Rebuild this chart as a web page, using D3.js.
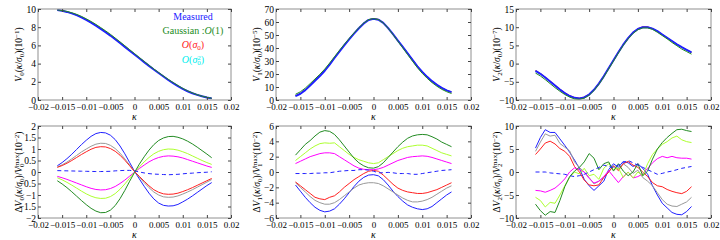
<!DOCTYPE html>
<html><head><meta charset="utf-8">
<script src="https://cdn.jsdelivr.net/npm/d3@7"></script>
<style>
html,body{margin:0;padding:0;background:#fff;}
svg text{font-family:"Liberation Serif",serif !important;}
</style></head>
<body><svg id="c" width="720" height="240"></svg>
<script>
// ---------- DATA ----------
const kappa = [-0.016,-0.015,-0.014,-0.013,-0.012,-0.011,-0.010,-0.009,-0.008,-0.007,-0.006,-0.005,-0.004,-0.003,-0.002,-0.001,0,
  0.001,0.002,0.003,0.004,0.005,0.006,0.007,0.008,0.009,0.010,0.011,0.012,0.013,0.014,0.015,0.016];
const xTicks = [-0.02,-0.015,-0.01,-0.005,0,0.005,0.01,0.015,0.02];
const xTickLabels = ["\u22120.02","\u22120.015","\u22120.01","\u22120.005","0","0.005","0.01","0.015","0.02"];

// Top-left: V0 (10^-1)
const v0Measured = [9.88,9.8,9.68,9.52,9.32,9.08,8.8,8.5,8.17,7.82,7.46,7.08,6.68,6.26,5.84,5.42,5.0,4.58,4.16,3.75,3.35,2.97,2.58,2.2,1.85,1.52,1.22,0.96,0.74,0.56,0.41,0.28,0.18];
const v0Gauss    = [9.9,9.83,9.73,9.59,9.41,9.19,8.92,8.63,8.31,7.96,7.6,7.22,6.81,6.39,5.96,5.53,5.1,4.67,4.24,3.82,3.41,3.02,2.64,2.27,1.92,1.59,1.28,1.01,0.78,0.58,0.42,0.29,0.19];
const v0Sigma1   = [9.89,9.81,9.69,9.53,9.33,9.09,8.81,8.51,8.19,7.84,7.48,7.1,6.7,6.28,5.86,5.44,5.02,4.6,4.18,3.77,3.37,2.99,2.6,2.22,1.87,1.54,1.23,0.97,0.75,0.56,0.41,0.28,0.18];
const v0Sigma2   = [9.88,9.8,9.68,9.52,9.32,9.08,8.8,8.5,8.18,7.83,7.47,7.09,6.69,6.27,5.85,5.43,5.01,4.59,4.17,3.76,3.36,2.98,2.59,2.21,1.86,1.53,1.22,0.96,0.74,0.56,0.41,0.28,0.18];

// Top-middle: V1 (10^-5)
const v1Measured = [3,4.8,7.6,11.2,14.8,18.4,22.5,27.2,32.3,37.2,42,46.6,51,55.2,58.9,61.6,62.4,61.8,59.3,55.3,50.6,45.7,40.8,35.9,30.9,25.9,21.6,17.8,14.5,11.7,9.3,7.4,6.1];
const v1Gauss    = [4.4,6.3,9.1,12.6,16.2,19.8,23.8,28.4,33.3,38.1,42.8,47.3,51.6,55.6,59.2,61.8,62.6,61.9,59.3,55.2,50.3,45.2,40.1,35,29.9,24.9,20.5,16.7,13.4,10.6,8.2,6.4,5.0];
const v1Sigma1   = [3.2,5.0,7.8,11.4,15.0,18.6,22.7,27.4,32.5,37.4,42.2,46.8,51.2,55.4,59.1,61.8,62.6,62.0,59.5,55.5,50.8,45.9,41.0,36.1,31.1,26.1,21.8,18.0,14.6,11.8,9.4,7.5,6.1];
const v1Sigma2   = [3.1,4.9,7.7,11.3,14.9,18.5,22.6,27.3,32.4,37.3,42.1,46.7,51.1,55.3,59.0,61.7,62.5,61.9,59.4,55.4,50.7,45.8,40.9,36.0,31.0,26.0,21.7,17.9,14.5,11.7,9.3,7.4,6.1];

// Top-right: V2 (10^-7)
const v2Measured = [-2.0,-2.8,-3.8,-4.9,-6.0,-7.1,-8.1,-8.9,-9.4,-9.6,-9.3,-8.5,-7.2,-5.5,-3.5,-1.3,0.9,3.1,5.2,7.0,8.5,9.5,10.0,10.0,9.6,8.9,8.0,7.1,6.2,5.3,4.5,3.8,3.1];
const v2Gauss    = [-2.6,-3.4,-4.4,-5.5,-6.6,-7.6,-8.5,-9.2,-9.7,-9.8,-9.5,-8.7,-7.4,-5.7,-3.7,-1.5,0.7,2.9,5.0,6.8,8.3,9.3,9.8,9.8,9.4,8.6,7.7,6.8,5.8,4.9,4.0,3.3,2.6];
const v2Sigma1   = [-1.9,-2.7,-3.7,-4.8,-5.9,-7.0,-8.0,-8.8,-9.3,-9.5,-9.2,-8.4,-7.1,-5.4,-3.4,-1.2,1.0,3.2,5.3,7.1,8.6,9.6,10.1,10.1,9.6,8.9,8.0,7.1,6.2,5.3,4.5,3.8,3.1];
const v2Sigma2   = [-2.0,-2.8,-3.8,-4.9,-6.0,-7.1,-8.1,-8.9,-9.4,-9.6,-9.3,-8.5,-7.2,-5.5,-3.5,-1.3,0.9,3.1,5.2,7.0,8.5,9.5,10.0,10.0,9.6,8.9,8.0,7.1,6.2,5.3,4.5,3.8,3.1];

// Bottom-left: dV0 / V0max (10^-2)
const d0Blue    = [0.27,0.41,0.58,0.77,0.98,1.19,1.38,1.55,1.67,1.72,1.7,1.6,1.41,1.13,0.79,0.41,0.03,-0.3,-0.62,-0.92,-1.17,-1.35,-1.45,-1.48,-1.47,-1.41,-1.3,-1.18,-1.04,-0.89,-0.74,-0.59,-0.46];
const d0Gray    = [0.22,0.31,0.43,0.57,0.72,0.87,1.0,1.12,1.21,1.25,1.24,1.16,1.02,0.82,0.57,0.3,0.02,-0.22,-0.46,-0.68,-0.87,-1.0,-1.08,-1.1,-1.09,-1.04,-0.96,-0.87,-0.77,-0.66,-0.55,-0.44,-0.33];
const d0Red     = [0.2,0.28,0.38,0.5,0.63,0.76,0.88,0.99,1.07,1.1,1.09,1.02,0.9,0.73,0.51,0.27,0.02,-0.19,-0.4,-0.6,-0.77,-0.88,-0.95,-0.97,-0.96,-0.92,-0.85,-0.77,-0.68,-0.58,-0.48,-0.38,-0.28];
const d0Magenta = [-0.19,-0.25,-0.32,-0.4,-0.48,-0.56,-0.64,-0.71,-0.76,-0.78,-0.77,-0.72,-0.63,-0.5,-0.35,-0.18,-0.01,0.15,0.3,0.44,0.55,0.63,0.68,0.7,0.69,0.66,0.61,0.54,0.47,0.4,0.33,0.26,0.2];
const d0Yellow  = [-0.25,-0.34,-0.45,-0.57,-0.7,-0.83,-0.95,-1.05,-1.12,-1.15,-1.14,-1.07,-0.94,-0.75,-0.52,-0.27,-0.02,0.22,0.44,0.63,0.79,0.9,0.97,1.0,0.99,0.95,0.88,0.8,0.7,0.6,0.5,0.41,0.33];
const d0Green   = [-0.38,-0.52,-0.68,-0.86,-1.05,-1.24,-1.42,-1.58,-1.7,-1.77,-1.76,-1.66,-1.46,-1.16,-0.8,-0.4,-0.02,0.34,0.66,0.95,1.19,1.37,1.48,1.54,1.55,1.51,1.44,1.34,1.22,1.08,0.93,0.78,0.62];
const d0Dashed  = [0.06,0.055,0.05,0.045,0.04,0.035,0.03,0.025,0.02,0.02,0.025,0.03,0.05,0.06,0.07,0.07,0.05,0.0,-0.04,-0.07,-0.09,-0.1,-0.11,-0.12,-0.11,-0.1,-0.08,-0.06,-0.05,-0.03,-0.02,-0.01,0.01];

// Bottom-middle: dV1 / V1max (10^-2)
const d1Blue    = [-1.7,-2.5,-3.3,-4.0,-4.6,-5.0,-5.2,-5.1,-4.8,-4.2,-3.5,-2.7,-1.9,-1.2,-0.7,-0.4,-0.35,-0.5,-1.0,-1.7,-2.5,-3.2,-3.8,-4.3,-4.6,-4.8,-4.9,-4.8,-4.5,-4.0,-3.5,-3.0,-2.6];
const d1Gray    = [-1.4,-2.0,-2.6,-3.2,-3.7,-4.0,-4.2,-4.2,-4.0,-3.6,-3.1,-2.6,-2.1,-1.7,-1.5,-1.4,-1.4,-1.5,-1.8,-2.2,-2.6,-3.0,-3.4,-3.7,-3.9,-3.9,-3.8,-3.6,-3.3,-2.9,-2.5,-2.1,-1.8];
const d1Red     = [-1.3,-1.8,-2.3,-2.8,-3.3,-3.5,-3.6,-3.3,-3.1,-2.6,-2.0,-1.5,-1.0,-0.6,-0.2,0.1,0.2,0.1,-0.4,-1.0,-1.6,-2.1,-2.4,-2.6,-2.7,-2.8,-2.8,-2.7,-2.5,-2.3,-2.0,-1.7,-1.4];
const d1Magenta = [1.1,1.4,1.7,2.0,2.2,2.4,2.5,2.5,2.4,2.0,1.6,1.2,0.8,0.5,0.35,0.3,0.3,0.4,0.6,0.9,1.2,1.5,1.7,1.9,2.0,2.05,2.1,2.05,1.9,1.7,1.5,1.3,1.1];
const d1Yellow  = [1.5,2.0,2.5,3.0,3.4,3.7,3.8,3.75,3.8,3.3,2.8,2.3,1.9,1.6,1.4,1.2,1.1,1.2,1.6,2.0,2.4,2.8,3.1,3.3,3.4,3.5,3.5,3.4,3.1,2.8,2.5,2.3,2.1];
const d1Green   = [2.2,2.9,3.6,4.1,4.7,5.2,5.4,5.3,4.9,4.2,3.4,2.6,1.8,1.2,0.8,0.55,0.5,0.7,1.2,1.9,2.6,3.3,3.9,4.4,4.7,4.85,4.9,4.85,4.6,4.3,3.9,3.6,3.3];
const d1Dashed  = [-0.2,-0.2,-0.2,-0.2,-0.15,-0.15,-0.1,-0.1,0.0,0.1,0.15,0.2,0.2,0.3,0.3,0.25,0.1,-0.1,-0.1,-0.05,-0.1,-0.2,-0.2,-0.2,-0.3,-0.3,-0.2,-0.1,0.0,0.1,0.2,0.25,0.3];

// Bottom-right: dV2 / V2max (10^-2)
const d2Blue    = [5.2,7.5,9.2,8.6,8.6,7.2,5.8,4.3,2.6,0.8,-1.6,-3.0,-4.0,-3.0,-2.0,0.5,1.8,1.0,2.3,2.0,1.2,1.8,0.8,-0.5,-3.0,-5.0,-6.8,-7.8,-8.8,-9.2,-9.3,-8.6,-7.5];
const d2Gray    = [4.5,6.5,8.3,7.8,8.0,6.2,5.4,4.6,2.2,1.0,0.0,-1.2,-2.6,-2.0,-1.2,0.0,1.4,0.6,1.8,1.0,-0.3,0.4,-1.2,-2.0,-3.0,-4.5,-6.0,-7.0,-7.4,-7.5,-7.0,-6.5,-5.5];
const d2Red     = [3.8,5.0,6.3,6.7,6.1,5.1,4.5,3.4,1.2,0.0,-1.8,-2.8,-3.0,-2.8,-1.2,0.0,1.3,0.3,1.8,2.3,1.5,1.0,0.0,-1.0,-2.3,-3.0,-3.2,-3.8,-4.2,-4.5,-4.7,-4.2,-3.2];
const d2Magenta = [-4.0,-4.1,-4.4,-4.0,-3.5,-2.6,-1.5,0.0,0.9,0.5,0.0,-1.4,-2.4,-2.0,-1.0,0.3,-1.0,-2.3,-1.0,0.0,-1.3,-1.0,-0.4,0.8,2.0,2.9,3.4,3.1,3.4,3.1,3.0,3.0,2.8];
const d2Yellow  = [-5.5,-6.2,-7.6,-6.6,-6.8,-5.0,-3.0,-1.2,0.0,-0.4,0.8,-0.8,-0.5,-1.6,0.8,1.8,0.5,0.9,-1.2,0.0,-1.3,0.0,-0.8,1.8,3.8,5.0,6.0,6.6,7.4,7.8,7.0,6.6,6.4];
const d2Green   = [-7.0,-8.4,-9.4,-8.6,-8.8,-6.2,-3.2,-1.0,0.2,1.0,2.2,4.0,3.0,0.5,1.8,2.2,0.2,1.8,0.2,-0.8,0.0,1.8,-0.8,0.2,2.8,5.0,6.4,7.5,8.4,9.2,9.3,9.0,8.8];
const d2Dashed  = [0.0,0.0,0.0,-0.2,-0.3,-0.4,-0.5,-0.8,-1.0,-0.8,-0.5,0.0,0.5,1.0,1.5,1.2,1.0,1.5,2.0,2.5,2.0,1.5,1.0,0.5,0.0,-0.5,-0.3,0.0,0.2,0.5,0.8,1.0,1.2];

const C = {blue:"#2020ff", green:"#228b22", red:"#ff2020", cyan:"#00eeee", gray:"#999999", magenta:"#ff00ff", yellow:"#adff2f"};
const FONT = "'Liberation Serif',serif";

// ---------- DRAW ----------
const svg = d3.select("#c");
const cols = [[38,231],[276,471],[516,711]];
const rows = [[9,100],[126,218]];

// segment styles: "i" italic, "sub", "sup"; optional third item = dx (to stack sub/sup)
function label(t, segs){
  segs.forEach(s=>{
    const ts = t.append("tspan").text(s[0]);
    const st = s[1]||"";
    if(st.includes("i")) ts.style("font-style","italic");
    if(st.includes("sub")){ ts.style("font-size","7px").attr("baseline-shift","-25%"); }
    if(st.includes("sup")){ ts.style("font-size","7px").attr("baseline-shift","45%"); }
    if(s[2]) ts.attr("dx", s[2]);
  });
}

function panel(ci, ri, yDom, yTicks, yTickLabels, ylabelSegs, series){
  const [x0,x1]=cols[ci], [y0,y1]=rows[ri];
  const x = d3.scaleLinear().domain([-0.02,0.02]).range([x0,x1]);
  const y = d3.scaleLinear().domain(yDom).range([y1,y0]);
  const g = svg.append("g");
  const line = d3.line().x((d,i)=>x(kappa[i])).y(d=>y(d));
  series.forEach(s=>{
    g.append("path").datum(s.data).attr("d",line).attr("fill","none")
      .attr("stroke",s.color).attr("stroke-width",s.w||1)
      .attr("stroke-dasharray",s.dash||null).attr("stroke-linejoin","round");
  });
  g.append("rect").attr("x",x0).attr("y",y0).attr("width",x1-x0).attr("height",y1-y0)
    .attr("fill","none").attr("stroke","#909090").attr("stroke-width",1);
  const ax = g.append("g").attr("transform",`translate(0,${y1})`)
    .call(d3.axisBottom(x).tickValues(xTicks).tickFormat((d,i)=>xTickLabels[i]).tickSizeInner(-3).tickSizeOuter(0).tickPadding(4));
  const axT = g.append("g").attr("transform",`translate(0,${y0})`)
    .call(d3.axisTop(x).tickValues(xTicks).tickFormat("").tickSizeInner(-3).tickSizeOuter(0));
  const ay = g.append("g").attr("transform",`translate(${x0},0)`)
    .call(d3.axisLeft(y).tickValues(yTicks).tickFormat((d,i)=>yTickLabels[i]).tickSizeInner(-3).tickSizeOuter(0).tickPadding(2));
  const ayR = g.append("g").attr("transform",`translate(${x1},0)`)
    .call(d3.axisRight(y).tickValues(yTicks).tickFormat("").tickSizeInner(-3).tickSizeOuter(0));
  [ax,axT,ay,ayR].forEach(a=>{
    a.attr("font-family",null);
    a.select(".domain").remove();
    a.selectAll(".tick line").attr("stroke","#444");
    a.selectAll("text").style("font-size","9.5px").attr("fill","#000").style("font-family",FONT);
  });
  ax.selectAll("text").style("font-size","9px");
  g.append("text").attr("x",(x0+x1)/2).attr("y",y1+19.5).attr("text-anchor","middle")
    .style("font-size","10px").style("font-style","italic").style("font-family",FONT).text("\u03ba");
  const yl = g.append("text").attr("transform",`translate(${x0-16},${(y0+y1)/2}) rotate(-90)`)
    .attr("text-anchor","middle").style("font-size","9.5px").style("font-family",FONT);
  label(yl, ylabelSegs);
  return {x,y,g};
}

const t0 = panel(0,0,[0,10],[0,2,4,6,8,10],["0","2","4","6","8","10"],
  [["V","i"],["0","sub"],["(",""],["\u03ba","i"],["/",""],["\u03c3","i"],["0","sub"],[")(10",""],["\u22121","sup"],[")",""]],
  [{data:v0Sigma2,color:C.cyan},{data:v0Sigma1,color:C.red},{data:v0Measured,color:C.blue,w:2},{data:v0Gauss,color:C.green}]);
// legend
const lx = 193;
function legendText(yy, color, segs){
  const t = t0.g.append("text").attr("x",lx).attr("y",yy).attr("text-anchor","middle")
    .style("font-size","10px").style("font-family",FONT).attr("fill",color);
  label(t, segs);
}
legendText(20, C.blue, [["Measured",""]]);
legendText(34, C.green, [["Gaussian :",""],["O","i"],["(1)",""]]);
legendText(48, C.red, [["O","i"],["(",""],["\u03c3","i"],["0","sub"],[")",""]]);
legendText(63, C.cyan, [["O","i"],["(",""],["\u03c3","i"],["0","sub"],["2","sup",-3.5],[")",""]]);

panel(1,0,[0,70],[0,10,20,30,40,50,60,70],["0","10","20","30","40","50","60","70"],
  [["V","i"],["1","sub"],["(",""],["\u03ba","i"],["/",""],["\u03c3","i"],["0","sub"],[")(10",""],["\u22125","sup"],[")",""]],
  [{data:v1Sigma2,color:C.cyan},{data:v1Sigma1,color:C.red},{data:v1Measured,color:C.blue,w:2},{data:v1Gauss,color:C.green}]);
panel(2,0,[-10,15],[-10,-5,0,5,10,15],["\u221210","\u22125","0","5","10","15"],
  [["V","i"],["2","sub"],["(",""],["\u03ba","i"],["/",""],["\u03c3","i"],["0","sub"],[")(10",""],["\u22127","sup"],[")",""]],
  [{data:v2Sigma2,color:C.cyan},{data:v2Sigma1,color:C.red},{data:v2Measured,color:C.blue,w:2},{data:v2Gauss,color:C.green}]);

function dSeries(b,gr,r,m,yv,gn,ds){
  return [{data:b,color:C.blue},{data:gr,color:C.gray},{data:r,color:C.red},{data:m,color:C.magenta},
    {data:yv,color:C.yellow},{data:gn,color:C.green},{data:ds,color:C.blue,dash:"4,3"}];
}
const dLab = n => [["\u0394",""],["V","i"],[n,"sub"],["(",""],["\u03ba","i"],["/",""],["\u03c3","i"],["0","sub"],[")/",""],
  ["V","i"],[n,"sub"],["max","sup",-3.5],["(10",""],["\u22122","sup"],[")",""]];
panel(0,1,[-2,2],[-2,-1.5,-1,-0.5,0,0.5,1,1.5,2],["\u22122","\u22121.5","\u22121","\u22120.5","0","0.5","1","1.5","2"],
  dLab("0"), dSeries(d0Blue,d0Gray,d0Red,d0Magenta,d0Yellow,d0Green,d0Dashed));
panel(1,1,[-6,6],[-6,-4,-2,0,2,4,6],["\u22126","\u22124","\u22122","0","2","4","6"],
  dLab("1"), dSeries(d1Blue,d1Gray,d1Red,d1Magenta,d1Yellow,d1Green,d1Dashed));
panel(2,1,[-10,10],[-10,-5,0,5,10],["\u221210","\u22125","0","5","10"],
  dLab("2"), dSeries(d2Blue,d2Gray,d2Red,d2Magenta,d2Yellow,d2Green,d2Dashed));
</script></body></html>
